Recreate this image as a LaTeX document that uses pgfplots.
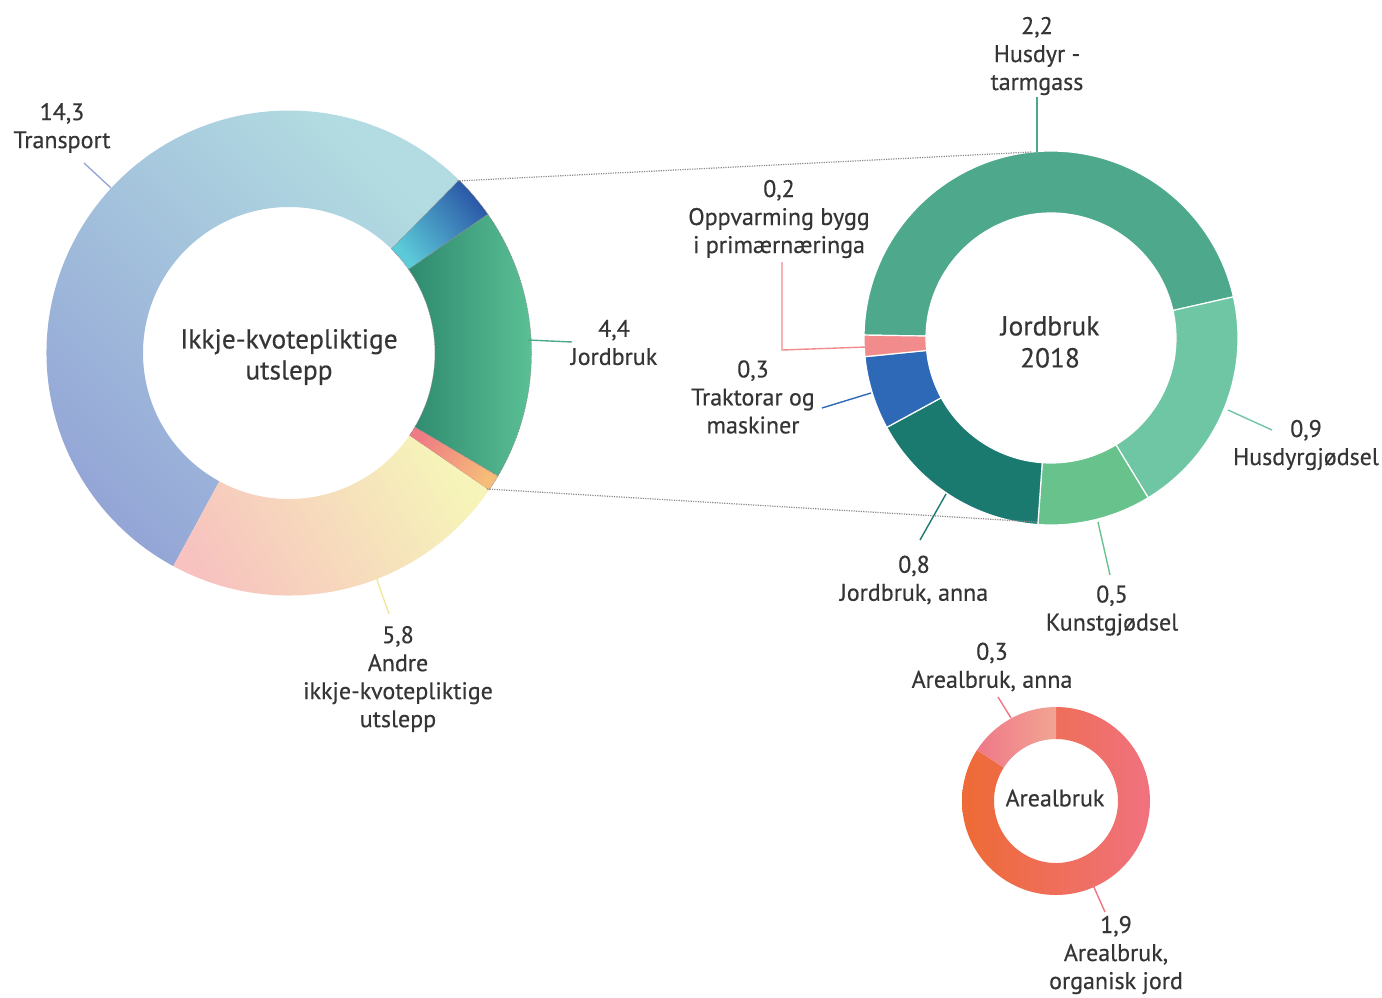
\documentclass[border=0pt]{standalone}
\usepackage{pgfplots}
\pgfplotsset{compat=1.18}
\usepackage{pgfplotstable}
\usepackage{fontspec}
\setmainfont{PT Sans}[FakeBold=0.4]

\definecolor{txt}{HTML}{353535}
\definecolor{trA}{HTML}{B2DCE1}
\definecolor{trB}{HTML}{93A4D6}
\definecolor{blA}{HTML}{2A56A6}
\definecolor{blB}{HTML}{5CCBD9}
\definecolor{jbA}{HTML}{2E8A6F}
\definecolor{jbB}{HTML}{60C699}
\definecolor{pkA}{HTML}{F6BD78}
\definecolor{pkB}{HTML}{EF7C84}
\definecolor{anA}{HTML}{F6F4B9}
\definecolor{anB}{HTML}{F7C2BF}
\definecolor{cTarm}{HTML}{4EA98C}
\definecolor{cGjod}{HTML}{6EC6A5}
\definecolor{cKunst}{HTML}{67C28B}
\definecolor{cAnna}{HTML}{1A7A70}
\definecolor{cTrak}{HTML}{2D69B6}
\definecolor{cOpp}{HTML}{F28B8B}
\definecolor{arOA}{HTML}{EE6A35}
\definecolor{arOB}{HTML}{F0727F}
\definecolor{arAA}{HTML}{EF7888}
\definecolor{arAB}{HTML}{F2A493}
\definecolor{lnTrans}{HTML}{9AA8D8}
\definecolor{lnAndre}{HTML}{F0E6A0}
\definecolor{lnAreal}{HTML}{F07585}
\definecolor{dotc}{HTML}{8A8A8A}

\tikzset{
  lbl/.style={font=\fontsize{12}{14}\selectfont, text=txt, align=center, inner sep=0pt},
  big/.style={font=\fontsize{13.7}{15.5}\selectfont, text=txt, align=center, inner sep=0pt},
  ln/.style={line width=0.7pt},
  dotb/.style={draw=dotc, line width=0.3pt, dash pattern=on 0.4pt off 0.4pt}}

% Ikkje-kvotepliktige utslepp (order: clockwise from the Transport start)
\pgfplotstableread{
part value
Transport 14.3
Annet1 0.77
Jordbruk 4.77
Annet2 0.29
Andre 6.13
}\leftdata
% Jordbruk 2018
\pgfplotstableread{
part value
Tarmgass 2.26
Husdyrgjodsel 0.97
Kunstgjodsel 0.48
JordbrukAnna 0.78
Traktorar 0.31
Oppvarming 0.09
}\jorddata
% Arealbruk
\pgfplotstableread{
part value
OrganiskJord 1.85
ArealbrukAnna 0.35
}\arealdata

\newcommand\computeangles[3]{%
  \gdef\tmpsum{0}%
  \pgfplotstableforeachcolumnelement{value}\of#1\as\cell{%
    \pgfmathparse{\tmpsum+\cell}\xdef\tmpsum{\pgfmathresult}}%
  \global\let\tmptotal\tmpsum
  \gdef\tmpcum{0}%
  \expandafter\xdef\csname ang#2@0\endcsname{#3}%
  \pgfplotstableforeachcolumnelement{value}\of#1\as\cell{%
    \pgfmathparse{\tmpcum+\cell}\xdef\tmpcum{\pgfmathresult}%
    \pgfmathparse{#3-360*\tmpcum/\tmptotal}\let\tmpang\pgfmathresult
    \pgfmathtruncatemacro\nxt{\pgfplotstablerow+1}%
    \expandafter\xdef\csname ang#2@\nxt\endcsname{\tmpang}%
  }%
}
\newcommand\A[2]{\csname ang#1@#2\endcsname}
\computeangles{\leftdata}{L}{241.5}
\computeangles{\jorddata}{J}{179.1}
\computeangles{\arealdata}{R}{90}

% #1 options, #2 cx, #3 cy (pixels), #4 rin (pt), #5 rout (pt), #6 a1, #7 a2
\newcommand\seg[7]{%
  \edef\segtmp{\noexpand\path[#1,shift={(axis cs:#2,#3)}] (#6:#5pt) arc[start angle=#6,end angle=#7,radius=#5pt] -- (#7:#4pt) arc[start angle=#7,end angle=#6,radius=#4pt] -- cycle;}%
  \segtmp}

\begin{document}
\begin{tikzpicture}
\begin{axis}[hide axis, scale only axis, width=691pt, height=498.5pt,
  xmin=0, xmax=1382, ymin=0, ymax=997, y dir=reverse, clip=false,
  enlargelimits=false]
\addplot[draw=none] coordinates {(0,0) (1382,997)};
\coordinate (bbBL) at (axis cs:0,997);
\coordinate (bbTR) at (axis cs:1382,0);

% ---- left donut
\seg{top color=trA, bottom color=trB, shading angle=-45}{289}{353}{73}{121.25}{\A{L}{0}}{\A{L}{1}}
\seg{top color=blA, bottom color=blB, shading angle=-50, dotb}{289}{353}{73}{121.25}{\A{L}{1}}{\A{L}{2}}
\seg{left color=jbA, right color=jbB, dotb}{289}{353}{73}{121.25}{\A{L}{2}}{\A{L}{3}}
\seg{top color=pkA, bottom color=pkB, shading angle=-123, dotb}{289}{353}{73}{121.25}{\A{L}{3}}{\A{L}{4}}
\seg{top color=anA, bottom color=anB, shading angle=-60}{289}{353}{73}{121.25}{\A{L}{4}}{\A{L}{5}}

% ---- Jordbruk 2018 donut
\seg{fill=cTarm, draw=white, line width=0.6pt}{1051}{338}{62.5}{93.5}{\A{J}{0}}{\A{J}{1}}
\seg{fill=cGjod, draw=white, line width=0.6pt}{1051}{338}{62.5}{93.5}{\A{J}{1}}{\A{J}{2}}
\seg{fill=cKunst, draw=white, line width=0.6pt}{1051}{338}{62.5}{93.5}{\A{J}{2}}{\A{J}{3}}
\seg{fill=cAnna, draw=white, line width=0.6pt}{1051}{338}{62.5}{93.5}{\A{J}{3}}{\A{J}{4}}
\seg{fill=cTrak, draw=white, line width=0.6pt}{1051}{338}{62.5}{93.5}{\A{J}{4}}{\A{J}{5}}
\seg{fill=cOpp, draw=white, line width=0.6pt}{1051}{338}{62.5}{93.5}{\A{J}{5}}{\A{J}{6}}

% ---- Arealbruk donut
\seg{left color=arOA, right color=arOB}{1056}{801}{31}{47}{\A{R}{0}}{\A{R}{1}}
\seg{left color=arAA, right color=arAB}{1056}{801}{31}{47}{\A{R}{1}}{\A{R}{2}}

% ---- dotted connectors
\draw[dotc, line width=0.6pt, dash pattern=on 0.6pt off 0.6pt] (axis cs:457,181) -- (axis cs:1032,152);
\draw[dotc, line width=0.6pt, dash pattern=on 0.6pt off 0.6pt] (axis cs:487,489) -- (axis cs:1037,522);

% ---- leader lines
\draw[ln, lnTrans] (axis cs:84,163) -- (axis cs:111,188);
\draw[ln, cTarm] (axis cs:528,340) -- (axis cs:572,342);
\draw[ln, lnAndre] (axis cs:376,577) -- (axis cs:389,614);
\draw[ln, cTarm] (axis cs:1037,97) -- (axis cs:1037,152);
\draw[ln, cOpp] (axis cs:782,262) -- (axis cs:782,350) -- (axis cs:866,347);
\draw[ln, cTrak] (axis cs:822,408) -- (axis cs:871,393);
\draw[ln, cGjod] (axis cs:1228,410) -- (axis cs:1272,430);
\draw[ln, cAnna] (axis cs:946,494) -- (axis cs:920,540);
\draw[ln, cKunst] (axis cs:1098,522) -- (axis cs:1110,575);
\draw[ln, lnAreal] (axis cs:998,697) -- (axis cs:1011,718);
\draw[ln, lnAreal] (axis cs:1093,885) -- (axis cs:1105,912);

% ---- labels
\node[lbl] at (axis cs:62,128) {14,3\\Transport};
\node[big] at (axis cs:289,357) {Ikkje-kvotepliktige\\utslepp};
\node[lbl] at (axis cs:614,342.5) {4,4\\Jordbruk};
\node[lbl] at (axis cs:398,679) {5,8\\Andre\\ikkje-kvotepliktige\\utslepp};
\node[lbl] at (axis cs:1037,56) {2,2\\Husdyr -\\tarmgass};
\node[lbl] at (axis cs:779,219) {0,2\\Oppvarming bygg\\i primærnæringa};
\node[lbl] at (axis cs:753,397) {0,3\\Traktorar og\\maskiner};
\node[big, font=\fontsize{13.7}{16}\selectfont] at (axis cs:1050,342) {Jordbruk\\2018};
\node[lbl] at (axis cs:1306,445) {0,9\\Husdyrgjødsel};
\node[lbl] at (axis cs:914,580) {0,8\\Jordbruk, anna};
\node[lbl] at (axis cs:1112,610.5) {0,5\\Kunstgjødsel};
\node[lbl] at (axis cs:992,667) {0,3\\Arealbruk, anna};
\node[lbl] at (axis cs:1055,798) {Arealbruk};
\node[lbl] at (axis cs:1116,955) {1,9\\Arealbruk,\\organisk jord};
\end{axis}
\pgfresetboundingbox
\useasboundingbox (bbBL) rectangle (bbTR);
\end{tikzpicture}
\end{document}
